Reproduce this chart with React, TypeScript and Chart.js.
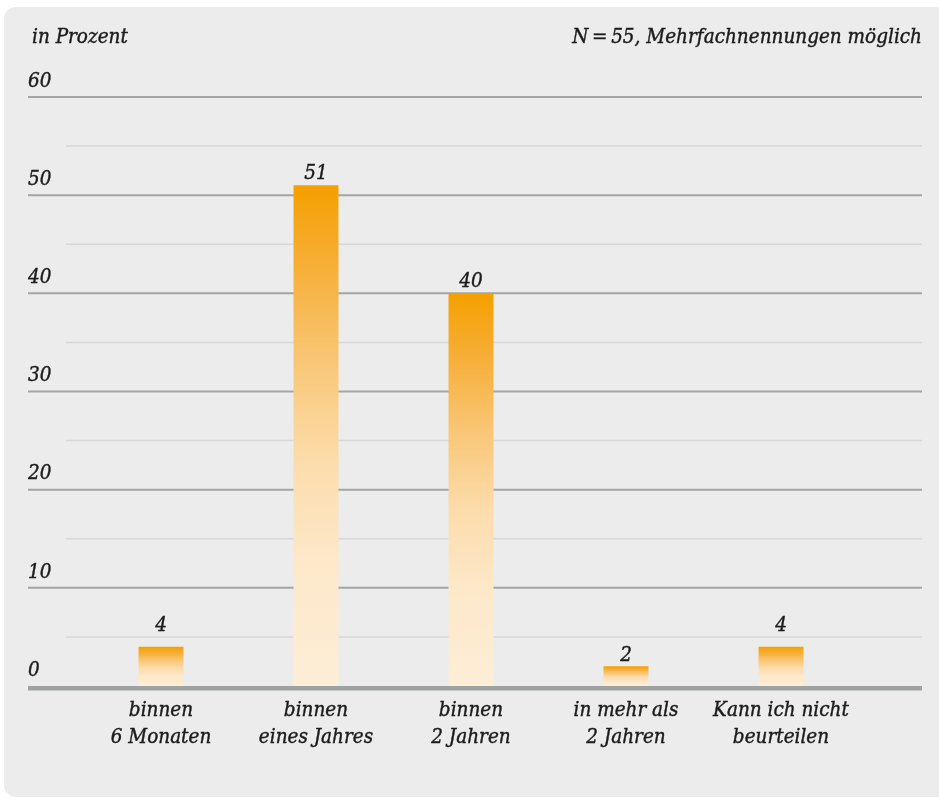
import React, { useEffect, useRef } from 'react';
import { Chart, registerables } from 'chart.js';

Chart.register(...registerables);

// Survey answers: when is the change expected?
const categories: string[][] = [
  ['binnen', '6 Monaten'],
  ['binnen', 'eines Jahres'],
  ['binnen', '2 Jahren'],
  ['in mehr als', '2 Jahren'],
  ['Kann ich nicht', 'beurteilen'],
];
const shares: number[] = [4, 51, 40, 2, 4];

// Axis range and tick step (percent)
const yMin = 0;
const yMax = 60;
const yStep = 10;

const unitLabel = 'in Prozent';
const sampleNote = 'N\u2009=\u200955, Mehrfachnennungen möglich';

// Vertical gap between bar top and its value label (px)
const labelLift = [21, 12, 12, 11, 21];

const FONT = "'DejaVu Serif Condensed', 'DejaVu Serif', serif";
const FONT_SIZE = 20.5;
const TEXT = '#1b1b1b';
const PANEL = '#ebeceb';
const MAJOR = '#a3a4a4';
const MINOR = '#d6d7d7';
const gradientStops: [number, string][] = [
  [0, '#f5a000'],
  [0.15, '#f6ad33'],
  [0.35, '#f9c676'],
  [0.55, '#fcdcab'],
  [0.75, '#fde8c9'],
  [1, '#fdeed7'],
];

function drawText(ctx: CanvasRenderingContext2D, s: string, x: number, y: number) {
  ctx.strokeText(s, x, y);
  ctx.fillText(s, x, y);
}

const decor = {
  id: 'decor',
  beforeDatasetsDraw(chart: any) {
    const { ctx, scales } = chart;
    const y = scales.y;
    const left = y.left;
    const right = chart.width - 17;
    ctx.save();
    // minor lines between the labelled ticks
    ctx.strokeStyle = MINOR;
    ctx.lineWidth = 1.5;
    for (let v = yMin + yStep / 2; v < yMax; v += yStep) {
      const py = y.getPixelForValue(v);
      ctx.beginPath();
      ctx.moveTo(left + 38, py);
      ctx.lineTo(right, py);
      ctx.stroke();
    }
    ctx.strokeStyle = MAJOR;
    ctx.lineWidth = 2;
    for (let v = yMin + yStep; v <= yMax; v += yStep) {
      const py = y.getPixelForValue(v);
      ctx.beginPath();
      ctx.moveTo(left, py);
      ctx.lineTo(right, py);
      ctx.stroke();
    }
    ctx.restore();
  },
  afterDatasetsDraw(chart: any) {
    const { ctx, scales } = chart;
    const y = scales.y;
    const left = y.left;
    const right = chart.width - 17;
    const y0 = y.getPixelForValue(0);
    ctx.save();
    ctx.fillStyle = '#a0a1a1';
    ctx.fillRect(left, y0, right - left, 4.5);

    ctx.fillStyle = TEXT;
    ctx.strokeStyle = TEXT;
    ctx.lineWidth = 0.4;
    ctx.font = `italic ${FONT_SIZE}px ${FONT}`;
    ctx.textAlign = 'center';
    ctx.textBaseline = 'middle';
    const meta = chart.getDatasetMeta(0);
    meta.data.forEach((bar: any, i: number) => {
      drawText(ctx, String(shares[i]), bar.x, bar.y - labelLift[i]);
    });

    ctx.textAlign = 'left';
    drawText(ctx, unitLabel, left + 4, 37.5);
    ctx.textAlign = 'right';
    drawText(ctx, sampleNote, right, 37.5);
    ctx.restore();
  },
};

export default function App() {
  const ref = useRef<HTMLCanvasElement | null>(null);

  useEffect(() => {
    if (!ref.current) return;
    const chart = new Chart(ref.current, {
      type: 'bar',
      data: {
        labels: categories,
        datasets: [
          {
            data: shares,
            borderWidth: 0,
            categoryPercentage: 1,
            barPercentage: 0.29,
            backgroundColor: (c: any) => {
              const ch = c.chart;
              const y = ch.scales?.y;
              if (c.type !== 'data' || !y || !ch.chartArea) return gradientStops[0][1];
              const top = y.getPixelForValue(c.raw as number);
              const bottom = y.getPixelForValue(0);
              const g = ch.ctx.createLinearGradient(0, top, 0, bottom);
              gradientStops.forEach(([o, col]) => g.addColorStop(o, col));
              return g;
            },
          },
        ],
      },
      options: {
        animation: false,
        responsive: false,
        devicePixelRatio: 1,
        layout: { padding: { top: 97, bottom: 12, left: 28, right: 80.5 } },
        plugins: {
          legend: { display: false },
          tooltip: { enabled: false },
        },
        scales: {
          x: {
            grid: { display: false, drawTicks: false },
            border: { display: false },
            ticks: {
              color: TEXT,
              padding: 11,
              textStrokeColor: TEXT,
              textStrokeWidth: 0.4,
              font: { family: FONT, size: FONT_SIZE, style: 'italic', lineHeight: 27 / FONT_SIZE },
            },
            afterFit: (s: any) => {
              s.height = 100;
            },
          },
          y: {
            min: yMin,
            max: yMax,
            grid: { display: false, drawTicks: false },
            border: { display: false },
            ticks: {
              stepSize: yStep,
              color: TEXT,
              crossAlign: 'far',
              labelOffset: -15.5,
              textStrokeColor: TEXT,
              textStrokeWidth: 0.4,
              font: { family: FONT, size: FONT_SIZE, style: 'italic' },
            },
            afterFit: (s: any) => {
              s.width = 55.5;
            },
          },
        },
      },
      plugins: [decor],
    });
    return () => chart.destroy();
  }, []);

  return (
    <div
      style={{
        position: 'fixed',
        left: 0,
        top: 0,
        width: 939,
        height: 798,
        overflow: 'hidden',
        background: '#ffffff',
      }}
    >
      <div
        style={{
          position: 'absolute',
          left: 4,
          top: 7,
          width: 960,
          height: 790,
          borderRadius: 12,
          background: PANEL,
        }}
      />
      <canvas
        ref={ref}
        width={939}
        height={798}
        style={{ position: 'absolute', left: 0, top: 0 }}
      />
    </div>
  );
}
